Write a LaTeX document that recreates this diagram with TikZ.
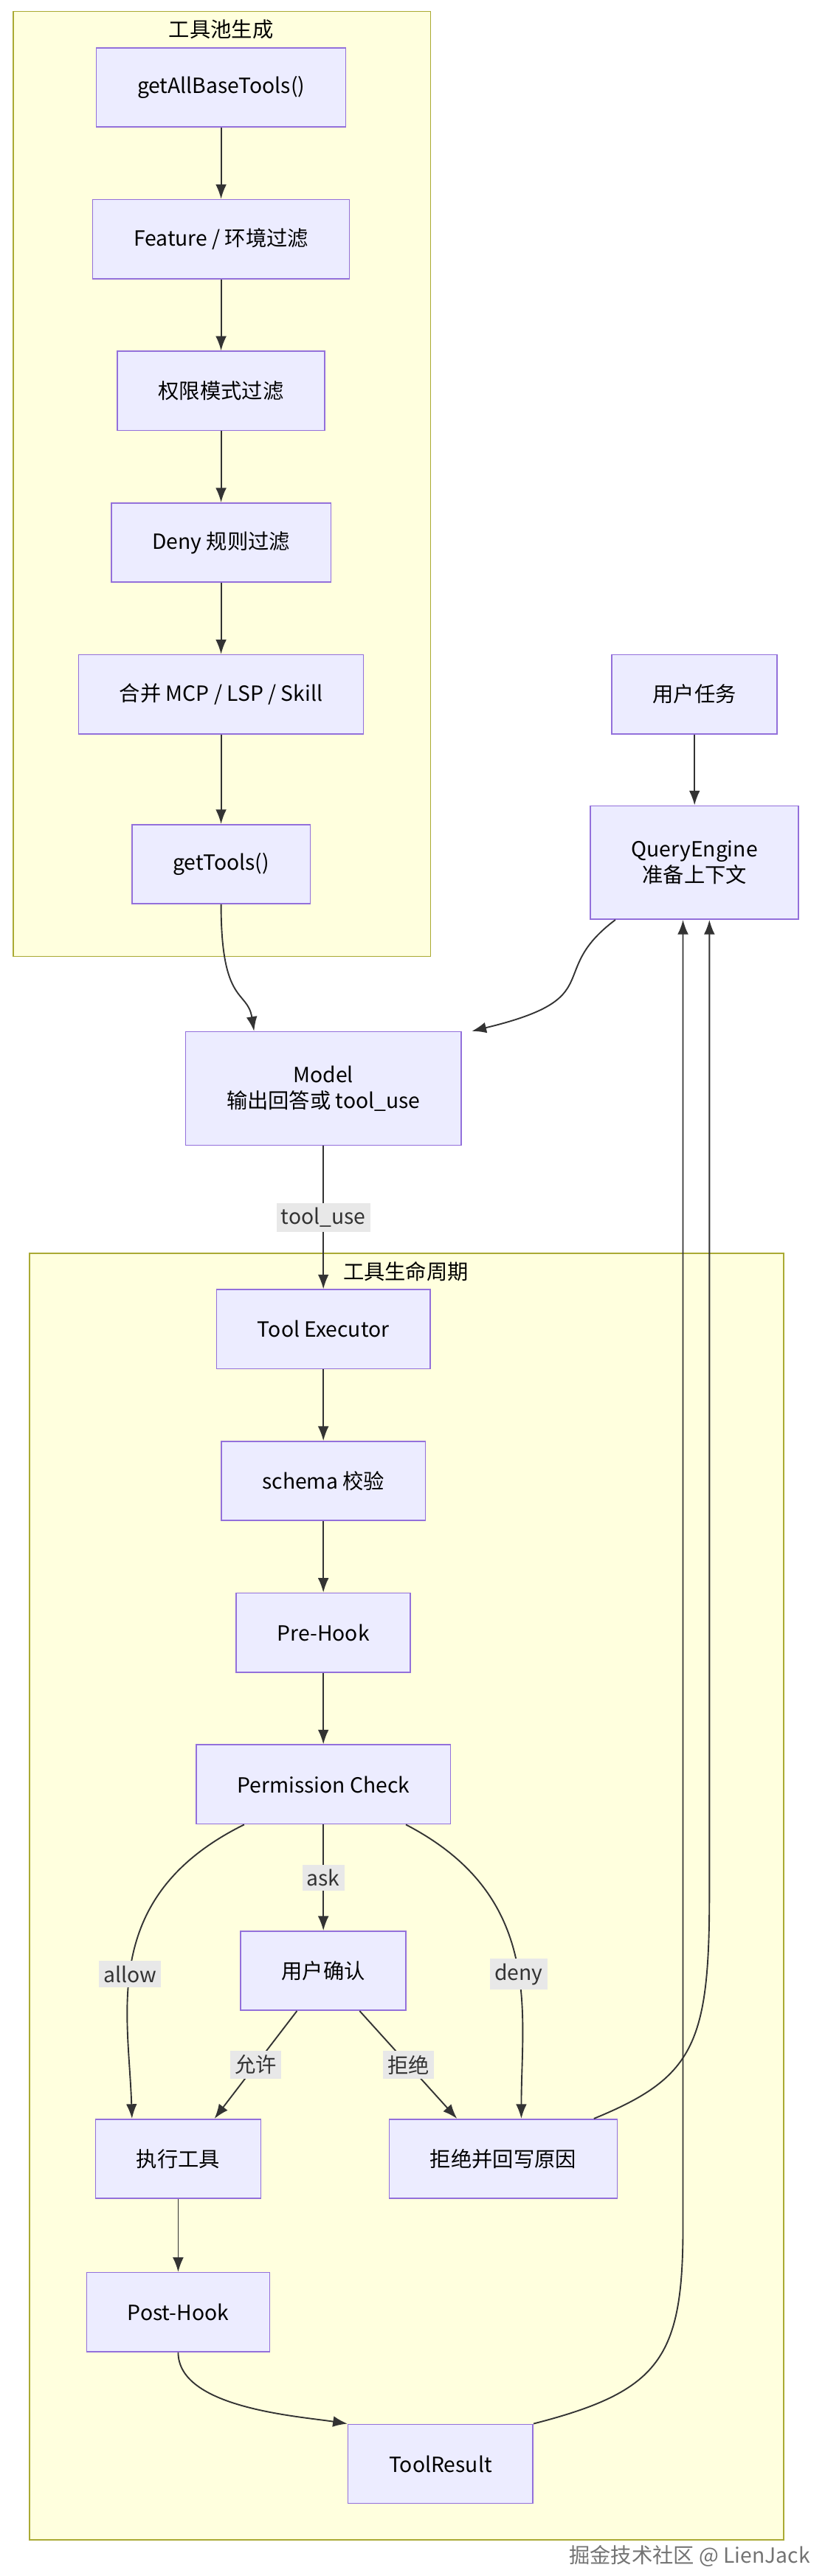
\documentclass[tikz,border=0pt]{standalone}
\usepackage{fontspec}
\setmainfont{Noto Sans CJK SC}
\usetikzlibrary{arrows.meta, calc}
\definecolor{boxline}{RGB}{147,112,219}
\definecolor{boxfill}{RGB}{236,236,255}
\definecolor{groupline}{RGB}{170,170,51}
\definecolor{groupfill}{RGB}{255,255,222}

\begin{document}
\begin{tikzpicture}[
    x=0.025cm, y=-0.025cm,
    box_style/.style={draw=boxline, fill=boxfill, line width=0.5pt, minimum height=1.2cm, inner xsep=0.62cm, font=\small, align=center},
    group_style/.style={draw=groupline, fill=groupfill, line width=0.5pt},
    flow_style/.style={-{Latex[length=2.2mm]}, line width=0.6pt, black!80},
    tag_style/.style={fill=black!9, inner sep=2pt, font=\small}
]
    \useasboundingbox (0,0) rectangle (500,1562);

    % Groups
    \draw[group_style] (8,7) rectangle (261,580);
    \node[font=\small] (pool_title) at (134,18) {工具池生成};
    \draw[group_style] (18,760) rectangle (475,1540);
    \node[font=\small] (life_title) at (246,771) {工具生命周期};

    % Tool pool
    \node[box_style] (base) at (134,53) {getAllBaseTools()};
    \node[box_style] (feature) at (134,145) {Feature / 环境过滤};
    \node[box_style] (mode) at (134,237) {权限模式过滤};
    \node[box_style] (deny_rule) at (134,329) {Deny 规则过滤};
    \node[box_style] (merge) at (134,421) {合并 MCP / LSP / Skill};
    \node[box_style] (get_tools) at (134,524) {getTools()};

    % Query
    \node[box_style] (task) at (421,421) {用户任务};
    \node[box_style, minimum height=1.72cm] (engine) at (421,523) {QueryEngine\\准备上下文};
    \node[box_style, minimum height=1.72cm] (model) at (196,660) {Model\\输出回答或 tool\_use};

    % Lifecycle
    \node[box_style] (executor) at (196,806) {Tool Executor};
    \node[box_style] (schema) at (196,898) {schema 校验};
    \node[box_style] (pre) at (196,990) {Pre-Hook};
    \node[box_style] (check) at (196,1082) {Permission Check};
    \node[box_style] (confirm) at (196,1195) {用户确认};
    \node[box_style] (run) at (108,1309) {执行工具};
    \node[box_style] (reject) at (305,1309) {拒绝并回写原因};
    \node[box_style] (post) at (108,1402) {Post-Hook};
    \node[box_style] (result) at (267,1494) {ToolResult};

    % Edges
    \draw[flow_style] (base) -- (feature);
    \draw[flow_style] (feature) -- (mode);
    \draw[flow_style] (mode) -- (deny_rule);
    \draw[flow_style] (deny_rule) -- (merge);
    \draw[flow_style] (merge) -- (get_tools);
    \draw[flow_style] (task) -- (engine);
    \draw[flow_style] (get_tools.south) .. controls (134,610) and (150,600) .. ($(model.north)+(-42,0)$);
    \draw[flow_style] ($(engine.south)+(-48,0)$) .. controls (330,590) and (370,605) .. ($(model.north)+(90,0)$);
    \draw[flow_style] (model) -- node[tag_style] {tool\_use} (executor);
    \draw[flow_style] (executor) -- (schema);
    \draw[flow_style] (schema) -- (pre);
    \draw[flow_style] (pre) -- (check);
    \draw[flow_style] (check) -- node[tag_style] {ask} (confirm);
    \draw[flow_style] ($(check.south)+(-48,0)$) .. controls (60,1150) and (78,1220) .. node[tag_style, pos=0.55] {allow} ($(run.north)+(-28,0)$);
    \draw[flow_style] ($(check.south)+(50,0)$) .. controls (330,1150) and (316,1220) .. node[tag_style, pos=0.55] {deny} ($(reject.north)+(11,0)$);
    \draw[flow_style] ($(confirm.south)+(-16,0)$) -- node[tag_style] {允许} ($(run.north)+(22,0)$);
    \draw[flow_style] ($(confirm.south)+(22,0)$) -- node[tag_style] {拒绝} ($(reject.north)+(-28,0)$);
    \draw[flow_style] (run) -- (post);
    \draw[flow_style] (post.south) .. controls (108,1460) and (180,1465) .. (result.north west);
    \draw[flow_style] ($(reject.north)+(55,0)$) .. controls (420,1260) and (430,1240) .. (430,1150) -- ($(engine.south)+(9,0)$);
    \draw[flow_style] (result.north east) .. controls (400,1450) and (414,1430) .. (414,1350) -- ($(engine.south)+(-7,0)$);

    % Watermark
    \node[font=\small, text=black!55, anchor=east] (mark) at (496,1550) {掘金技术社区 @ LienJack};
\end{tikzpicture}
\end{document}
